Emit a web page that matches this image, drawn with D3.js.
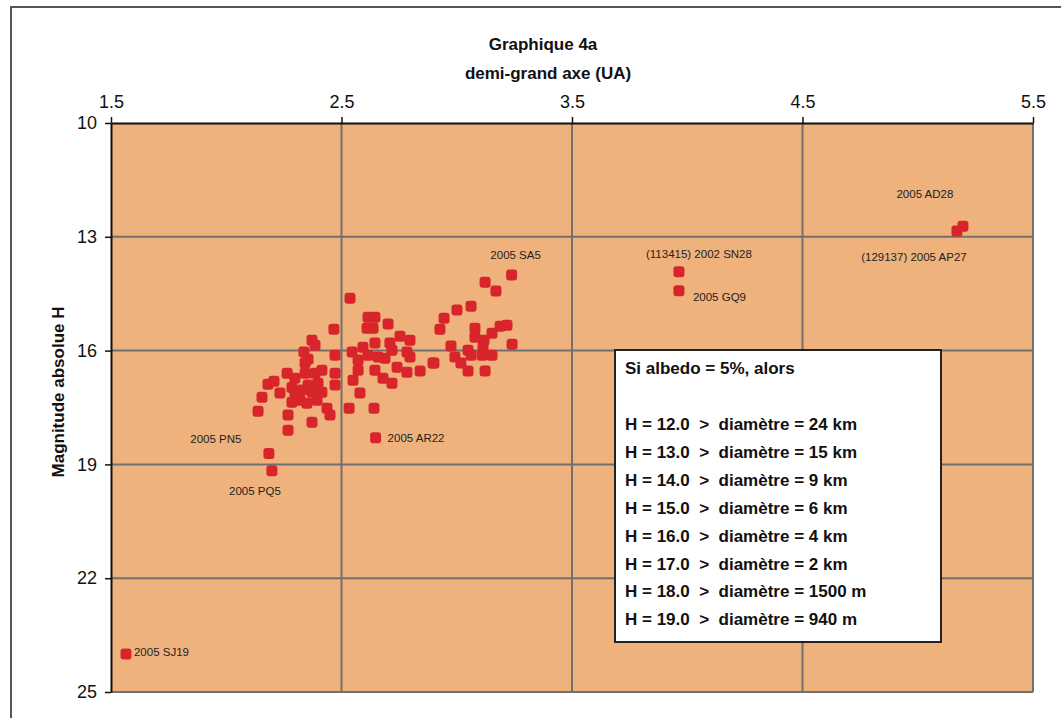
<!DOCTYPE html>
<html><head><meta charset="utf-8">
<script src="https://cdn.jsdelivr.net/npm/d3@7"></script>
<style>
html,body{margin:0;padding:0;background:#fff;}
svg{display:block;}
</style></head>
<body>
<svg id="chart" width="1061" height="718"></svg>
<script>
// ---- data ----
const xTicks = [1.5, 2.5, 3.5, 4.5, 5.5];
const yTicks = [10, 13, 16, 19, 22, 25];
const chartTitle = "Graphique 4a";
const xTitle = "demi-grand axe (UA)";
const yTitle = "Magnitude absolue H";

// unlabeled asteroids: semi-major axis (UA) and absolute magnitude H
const semiMajorAxis = [
  2.138,2.155,2.181,2.207,2.233,2.264,2.268,2.268,2.285,2.298,2.298,2.320,2.285,2.337,2.342,2.342,2.355,2.355,2.350,2.372,
  2.385,2.385,2.372,2.372,2.394,2.398,2.415,2.415,2.437,2.450,2.467,2.472,2.472,2.472,2.329,
  2.537,2.615,2.645,2.611,2.637,2.702,2.754,2.797,2.645,2.593,2.710,2.719,2.784,2.546,2.572,2.615,2.658,2.689,2.797,
  2.572,2.645,2.741,2.784,2.841,2.897,2.550,2.680,2.719,2.580,2.533,2.641,
  3.123,3.170,3.062,3.001,2.945,2.927,3.079,3.079,3.118,3.153,3.188,3.218,3.240,2.975,3.049,3.062,3.110,3.153,
  2.992,3.018,2.901,3.049,3.123,3.114
];
const absMagnitude = [
  17.60,17.23,16.89,16.81,17.12,16.60,17.70,18.10,16.97,16.73,17.12,17.31,17.36,16.04,16.33,16.60,16.23,16.91,17.39,15.73,
  15.86,16.60,17.10,17.89,17.31,16.86,16.52,17.10,17.52,17.70,15.44,16.12,16.60,16.91,17.04,
  14.62,15.12,15.12,15.41,15.41,15.30,15.62,15.73,15.80,15.91,15.80,15.99,16.04,16.04,16.25,16.12,16.17,16.20,16.17,
  16.52,16.52,16.44,16.57,16.54,16.33,16.78,16.73,16.86,17.12,17.52,17.52,
  14.20,14.43,14.83,14.93,15.15,15.44,15.41,15.65,15.73,15.54,15.36,15.33,15.83,15.88,15.99,16.12,16.12,16.12,
  16.17,16.33,16.33,16.54,16.54,15.91
];

// named asteroids
const namedLabels = ["2005 SJ19","2005 PN5","2005 PQ5","2005 AR22","2005 SA5","(113415) 2002 SN28","2005 GQ9","2005 AD28","(129137) 2005 AP27"];
const namedA = [1.565, 2.185, 2.198, 2.648, 3.238, 3.964, 3.964, 5.196, 5.170];
const namedH = [24.00, 18.71, 19.17, 18.30, 14.01, 13.92, 14.42, 12.72, 12.85];

const legendTitle = "Si albedo = 5%, alors";
const legendH = ["12.0","13.0","14.0","15.0","16.0","17.0","18.0","19.0"];
const legendDiam = ["24 km","15 km","9 km","6 km","4 km","2 km","1500 m","940 m"];

// ---- layout / style (not data) ----
const labelOffsets = [[8,-2,"start"],[-53,-14,"middle"],[-17,20,"middle"],[12,0,"start"],[4,-20,"middle"],[20,-18,"middle"],[14,6,"start"],[-38,-32,"middle"],[-43,26,"middle"]];
const plotBg = "#efb27c", gridColor = "#707070", markerColor = "#d7252b";
const narrow = "'Liberation Sans Narrow', 'Arial Narrow', 'Liberation Sans', Arial, sans-serif";
const sans = "'Liberation Sans', Arial, Helvetica, sans-serif";

const svg = d3.select("#chart");
const x = d3.scaleLinear().domain([1.5, 5.5]).range([111, 1033]);
const y = d3.scaleLinear().domain([10, 25]).range([123, 692]);

// outer frame
svg.append("rect").attr("x", 11).attr("y", 7).attr("width", 1070).attr("height", 730)
  .attr("fill", "#fff").attr("stroke", "#555").attr("stroke-width", 2);

// plot background
svg.append("rect").attr("x", x(1.5)).attr("y", y(10))
  .attr("width", x(5.5) - x(1.5)).attr("height", y(25) - y(10)).attr("fill", plotBg);

// grid
const g = svg.append("g");
g.selectAll("line.vg").data(xTicks.slice(1)).join("line")
  .attr("x1", d => x(d)).attr("x2", d => x(d)).attr("y1", y(10)).attr("y2", y(25))
  .attr("stroke", gridColor).attr("stroke-width", 2);
g.selectAll("line.hg").data(yTicks.slice(1)).join("line")
  .attr("y1", d => y(d)).attr("y2", d => y(d)).attr("x1", x(1.5)).attr("x2", x(5.5))
  .attr("stroke", gridColor).attr("stroke-width", 2);

// axes
const xAxis = svg.append("g").attr("transform", `translate(0,${y(10)})`)
  .call(d3.axisTop(x).tickValues(xTicks).tickFormat(d3.format(".1f")).tickSize(6).tickSizeOuter(0).tickPadding(9));
const yAxis = svg.append("g").attr("transform", `translate(${x(1.5)},0)`)
  .call(d3.axisLeft(y).tickValues(yTicks).tickSize(6).tickSizeOuter(0).tickPadding(8));
[xAxis, yAxis].forEach(a => {
  a.select(".domain").attr("stroke", "#111").attr("stroke-width", 2);
  a.selectAll(".tick line").attr("stroke", "#111").attr("stroke-width", 1.5);
  a.selectAll(".tick text").attr("fill", "#111").style("font-family", narrow).style("font-size", "18px");
});

// titles
svg.append("text").attr("x", 543).attr("y", 50).attr("text-anchor", "middle")
  .style("font-family", narrow).style("font-weight", "bold").style("font-size", "17px").attr("fill", "#111").text(chartTitle);
svg.append("text").attr("x", 548).attr("y", 79).attr("text-anchor", "middle")
  .style("font-family", narrow).style("font-weight", "bold").style("font-size", "17px").attr("fill", "#111").text(xTitle);
svg.append("text").attr("transform", "translate(64,392) rotate(-90)").attr("text-anchor", "middle")
  .style("font-family", sans).style("font-weight", "bold").style("font-size", "17px").attr("fill", "#111").text(yTitle);

// markers
const pts = semiMajorAxis.map((a, i) => ({a, h: absMagnitude[i]}))
  .concat(namedA.map((a, i) => ({a, h: namedH[i]})));
const ms = 11;
svg.append("g").selectAll("rect").data(pts).join("rect")
  .attr("x", d => x(d.a) - ms / 2).attr("y", d => y(d.h) - ms / 2)
  .attr("width", ms).attr("height", ms).attr("rx", 3)
  .attr("fill", markerColor);

// labels
svg.append("g").selectAll("text").data(namedLabels).join("text")
  .attr("x", (d, i) => x(namedA[i]) + labelOffsets[i][0])
  .attr("y", (d, i) => y(namedH[i]) + labelOffsets[i][1])
  .attr("text-anchor", (d, i) => labelOffsets[i][2])
  .attr("dy", "0.35em")
  .style("font-family", sans).style("font-size", "11.5px").attr("fill", "#222").text(d => d);

// legend box
const lg = svg.append("g");
lg.append("rect").attr("x", 615).attr("y", 350).attr("width", 326).attr("height", 292)
  .attr("fill", "#fff").attr("stroke", "#222").attr("stroke-width", 2);
lg.append("text").attr("x", 625).attr("y", 374)
  .style("font-family", sans).style("font-weight", "bold").style("font-size", "17px").attr("fill", "#111").text(legendTitle);
lg.selectAll("text.row").data(legendH).join("text").attr("class", "row")
  .attr("x", 625).attr("y", (d, i) => 430 + i * 27.9)
  .style("font-family", sans).style("font-weight", "bold").style("font-size", "17px")
  .style("white-space", "pre").attr("fill", "#111")
  .text((d, i) => `H = ${d}  >  diamètre = ${legendDiam[i]}`);
</script>
</body></html>
